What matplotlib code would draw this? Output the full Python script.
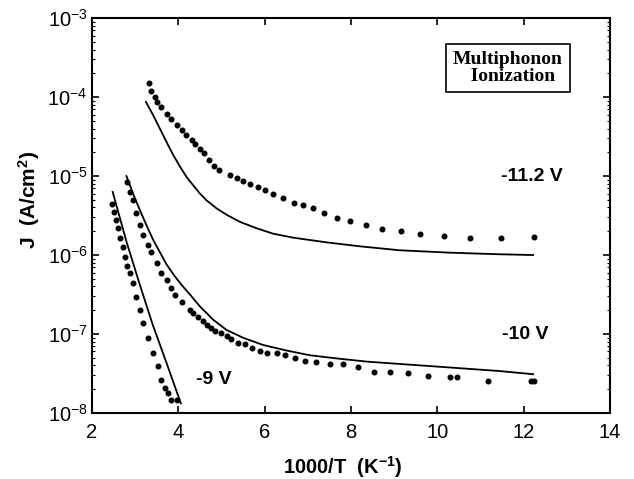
import numpy as np
import matplotlib
matplotlib.use("Agg")
import matplotlib.pyplot as plt
from matplotlib.ticker import LogLocator, LogFormatterMathtext, NullFormatter, MultipleLocator

plt.rcParams['font.family'] = ['Liberation Sans', 'DejaVu Sans']
plt.rcParams['mathtext.fontset'] = 'custom'
plt.rcParams['mathtext.rm'] = 'Liberation Sans'
plt.rcParams['mathtext.bf'] = 'Liberation Sans:bold'
plt.rcParams['mathtext.it'] = 'Liberation Sans:italic'

# ---- data (x = 1000/T, y = log10 J) ----
dots_112_x = [3.33, 3.38, 3.46, 3.50, 3.61, 3.73, 3.84, 3.96, 4.08, 4.19, 4.31, 4.38, 4.50, 4.59,
              4.72, 4.83, 4.95, 5.20, 5.35, 5.51, 5.66, 5.84, 6.01, 6.20, 6.43, 6.68, 6.90, 7.11,
              7.38, 7.68, 7.99, 8.34, 8.71, 9.15, 9.61, 10.15, 10.76, 11.47, 12.25]
dots_112_logJ = [-3.82, -3.92, -4.00, -4.06, -4.13, -4.21, -4.28, -4.35, -4.42, -4.48, -4.54, -4.59,
                 -4.66, -4.71, -4.80, -4.87, -4.92, -4.98, -5.02, -5.06, -5.10, -5.14, -5.17, -5.23,
                 -5.28, -5.34, -5.37, -5.41, -5.47, -5.53, -5.57, -5.62, -5.67, -5.70, -5.73, -5.76,
                 -5.78, -5.78, -5.77]
line_112_x = [3.25, 3.42, 3.575, 3.73, 3.88, 4.04, 4.19, 4.35, 4.50, 4.66, 4.89, 5.12, 5.43, 5.81,
              6.20, 6.66, 7.44, 8.21, 9.13, 10.29, 11.40, 12.22]
line_112_logJ = [-4.06, -4.23, -4.40, -4.57, -4.73, -4.88, -5.01, -5.12, -5.22, -5.31, -5.41, -5.49,
                 -5.58, -5.66, -5.73, -5.78, -5.84, -5.89, -5.94, -5.97, -5.99, -6.00]

dots_10_x = [2.82, 2.88, 2.96, 3.03, 3.11, 3.19, 3.30, 3.38, 3.50, 3.61, 3.73, 3.84, 3.92, 4.08,
             4.27, 4.35, 4.46, 4.58, 4.67, 4.77, 4.85, 5.00, 5.12, 5.23, 5.39, 5.54, 5.70, 5.89,
             6.06, 6.28, 6.47, 6.70, 6.93, 7.20, 7.51, 7.82, 8.17, 8.53, 8.90, 9.33, 9.79, 10.29,
             10.45, 11.18, 12.18, 12.23]
dots_10_logJ = [-5.07, -5.20, -5.30, -5.47, -5.62, -5.75, -5.87, -5.96, -6.10, -6.23, -6.32, -6.42,
                -6.51, -6.59, -6.70, -6.73, -6.78, -6.84, -6.89, -6.93, -6.96, -6.99, -7.03, -7.07,
                -7.11, -7.13, -7.18, -7.21, -7.24, -7.24, -7.27, -7.30, -7.34, -7.35, -7.38, -7.38,
                -7.42, -7.48, -7.48, -7.50, -7.53, -7.55, -7.54, -7.60, -7.60, -7.60]
line_10_x = [2.80, 2.95, 3.11, 3.27, 3.42, 3.58, 3.73, 3.92, 4.11, 4.27, 4.50, 4.81, 5.12, 5.51,
             5.97, 6.51, 7.05, 7.67, 8.36, 9.13, 9.91, 10.68, 11.45, 12.22]
line_10_logJ = [-5.00, -5.22, -5.43, -5.63, -5.81, -5.97, -6.12, -6.27, -6.40, -6.50, -6.65, -6.82,
                -6.95, -7.05, -7.14, -7.21, -7.27, -7.31, -7.35, -7.38, -7.41, -7.44, -7.47, -7.51]

dots_9_x = [2.46, 2.51, 2.56, 2.61, 2.66, 2.73, 2.76, 2.82, 2.88, 2.96, 3.03, 3.11, 3.19, 3.30,
            3.42, 3.54, 3.61, 3.69, 3.77, 3.84, 3.96]
dots_9_logJ = [-5.35, -5.45, -5.56, -5.66, -5.79, -5.90, -6.02, -6.14, -6.23, -6.36, -6.53, -6.70,
               -6.86, -7.05, -7.24, -7.41, -7.58, -7.69, -7.75, -7.84, -7.84]
line_9_x = [2.48, 2.80, 3.10, 3.40, 3.73, 4.06]
line_9_logJ = [-5.20, -5.83, -6.36, -6.87, -7.37, -7.88]

labels = ["-11.2 V", "-10 V", "-9 V"]
label_x = [12.19, 12.05, 4.83]
label_logJ = [-5.01, -7.01, -7.58]

# ---- figure ----
fig = plt.figure(figsize=(6.34, 4.79), dpi=100)
ax = fig.add_axes([0.145, 0.138, 0.817, 0.824])

def p(v):
    return 10.0 ** np.asarray(v)

for lx, ly in [(line_112_x, line_112_logJ), (line_10_x, line_10_logJ), (line_9_x, line_9_logJ)]:
    ax.plot(lx, p(ly), color='black', lw=1.3)
for dx, dy in [(dots_112_x, dots_112_logJ), (dots_10_x, dots_10_logJ), (dots_9_x, dots_9_logJ)]:
    ax.plot(dx, p(dy), ls='none', marker='o', ms=3.3, color='black', mec='black')

ax.set_yscale('log')
ax.set_xlim(2, 14)
ax.set_ylim(1e-8, 1e-3)
ax.xaxis.set_major_locator(MultipleLocator(2))
ax.yaxis.set_major_locator(LogLocator(base=10, numticks=10))
ax.yaxis.set_major_formatter(LogFormatterMathtext())
ax.yaxis.set_minor_locator(LogLocator(base=10, subs=np.arange(2, 10), numticks=10))
ax.yaxis.set_minor_formatter(NullFormatter())

ax.tick_params(which='both', direction='in', top=True, right=True, labelsize=14.5, width=1.2)
ax.tick_params(which='major', length=5)
ax.tick_params(which='minor', length=2.5, width=0.8)
ax.tick_params(axis='x', pad=7)
ax.tick_params(axis='y', pad=3)
for s in ax.spines.values():
    s.set_linewidth(1.5)

ax.set_xlabel(r'1000/T  (K$^{\mathbf{-1}}$)', fontsize=14.5, fontweight='bold')
ax.set_ylabel(r'J  (A/cm$^{\mathbf{2}}$)', fontsize=15, fontweight='bold')
ax.xaxis.set_label_coords(0.485, -0.105)
ax.yaxis.set_label_coords(-0.097, 0.54)

for t, x, y in zip(labels, label_x, label_logJ):
    ax.text(x, 10 ** y, t, fontsize=14, fontweight='bold', ha='center', va='center')

ax.text(11.64, 10 ** -3.63, 'Multiphonon\n  Ionization', fontsize=14, fontweight='bold',
        family=['Liberation Serif', 'DejaVu Serif'], ha='center', va='center', linespacing=1.0,
        bbox=dict(boxstyle='square,pad=0.35', fc='white', ec='black', lw=1.2))

fig.savefig('out.png', dpi=100)
